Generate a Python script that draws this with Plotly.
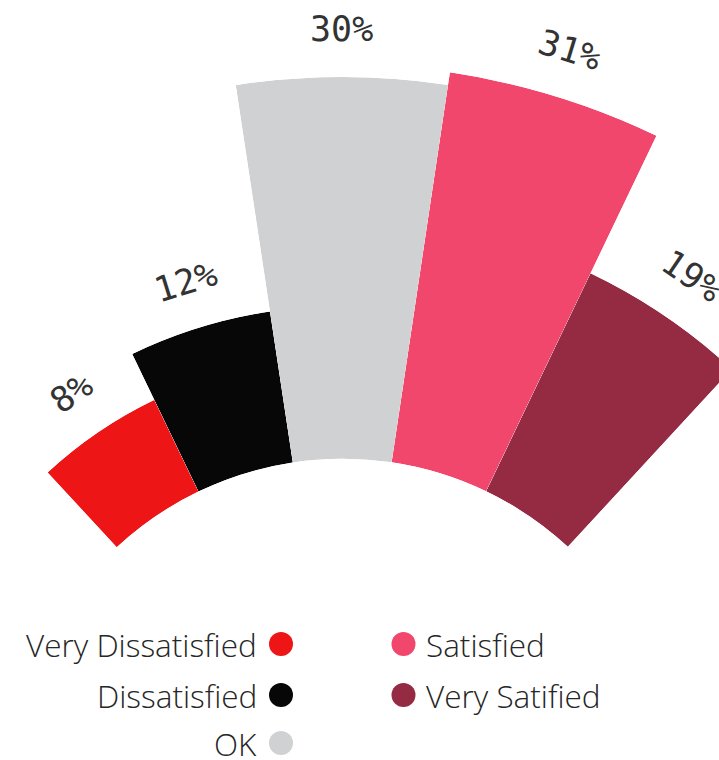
import math
import plotly.graph_objects as go

# Survey results
categories = ["Very Dissatisfied", "Dissatisfied", "OK", "Satisfied", "Very Satified"]
values = [8, 12, 30, 31, 19]
value_labels = ["8%", "12%", "30%", "31%", "19%"]
colors = ["#EE1516", "#070707", "#D0D1D3", "#F2476C", "#952A43"]

# Canvas and fan geometry (pixels)
W, H = 740, 800
CX, CY = 342.5, 791.0        # common centre of the fan
HOLE_PX = 332.3              # inner radius shared by every bar
PX_PER_PCT = 12.72           # radial length of one percentage point
START_DEG = 132.8            # left edge of the first bar
SPAN_DEG = 17.1              # angular width of each bar
LABEL_GAP = 48               # distance from bar end to label centre

LABEL_FONT = dict(family="DejaVu Sans Mono", size=35, color="#333333")
KEY_FONT = dict(family="Open Sans", size=31.5, color="#262626", weight=350)

fig = go.Figure()
annotations = []

for i, (cat, val, lab, col) in enumerate(zip(categories, values, value_labels, colors)):
    a1 = START_DEG - i * SPAN_DEG
    a0 = a1 - SPAN_DEG
    mid = (a0 + a1) / 2
    outer = HOLE_PX + PX_PER_PCT * val

    # bounding box of the sector in units of the outer radius (origin included)
    cs = [math.cos(math.radians(a)) for a in (a0, a1)]
    sn = [math.sin(math.radians(a)) for a in (a0, a1)]
    bx0 = min(0.0, min(cs))
    bx1 = max(0.0, max(cs))
    by1 = 1.0 if a0 <= 90 <= a1 else max(sn)

    left = CX + outer * bx0
    right = CX + outer * bx1
    top = CY - outer * by1

    key = "polar" if i == 0 else f"polar{i + 1}"
    fig.add_trace(go.Barpolar(
        r=[val], theta=[mid], width=[SPAN_DEG],
        marker=dict(color=col, line=dict(width=0)),
        name=cat, subplot=key, showlegend=False,
        hovertemplate=f"{cat}: {lab}<extra></extra>",
    ))
    fig.update_layout(**{key: dict(
        domain=dict(x=[left / W, right / W], y=[1 - CY / H, 1 - top / H]),
        sector=[a0, a1],
        hole=HOLE_PX / outer,
        bgcolor="rgba(0,0,0,0)",
        radialaxis=dict(range=[0, val], visible=False),
        angularaxis=dict(visible=False, rotation=0, direction="counterclockwise",
                         thetaunit="degrees"),
    )})

    # value label beyond the end of the bar, tangent to the arc
    rl = outer + LABEL_GAP
    lx = CX + rl * math.cos(math.radians(mid))
    ly = CY - rl * math.sin(math.radians(mid))
    annotations.append(dict(
        x=lx / W, y=1 - ly / H, xref="paper", yref="paper",
        text=lab, showarrow=False, textangle=90 - mid,
        xanchor="center", yanchor="middle", font=LABEL_FONT,
    ))

# Two-column key: left column text then dot, right column dot then text
shapes = []
DOT_R = 12
left_rows = [(0, 644), (1, 695), (2, 743)]
right_rows = [(3, 644), (4, 695)]


def dot(cx, cy, color):
    return dict(type="circle", xref="paper", yref="paper",
                x0=(cx - DOT_R) / W, x1=(cx + DOT_R) / W,
                y0=1 - (cy + DOT_R) / H, y1=1 - (cy - DOT_R) / H,
                fillcolor=color, line=dict(width=0))


for idx, y in left_rows:
    annotations.append(dict(
        x=259 / W, y=1 - y / H, xref="paper", yref="paper",
        text=categories[idx], showarrow=False, xanchor="right", yanchor="middle",
        font=KEY_FONT,
    ))
    shapes.append(dot(281, y, colors[idx]))
for idx, y in right_rows:
    annotations.append(dict(
        x=424 / W, y=1 - y / H, xref="paper", yref="paper",
        text=categories[idx], showarrow=False, xanchor="left", yanchor="middle",
        font=KEY_FONT,
    ))
    shapes.append(dot(403.5, y, colors[idx]))

fig.update_layout(
    width=W, height=H,
    margin=dict(l=0, r=0, t=0, b=0),
    paper_bgcolor="white",
    plot_bgcolor="white",
    template="none",
    showlegend=False,
    annotations=annotations,
    shapes=shapes,
)

fig.write_html("out.html", config={"displayModeBar": False})
